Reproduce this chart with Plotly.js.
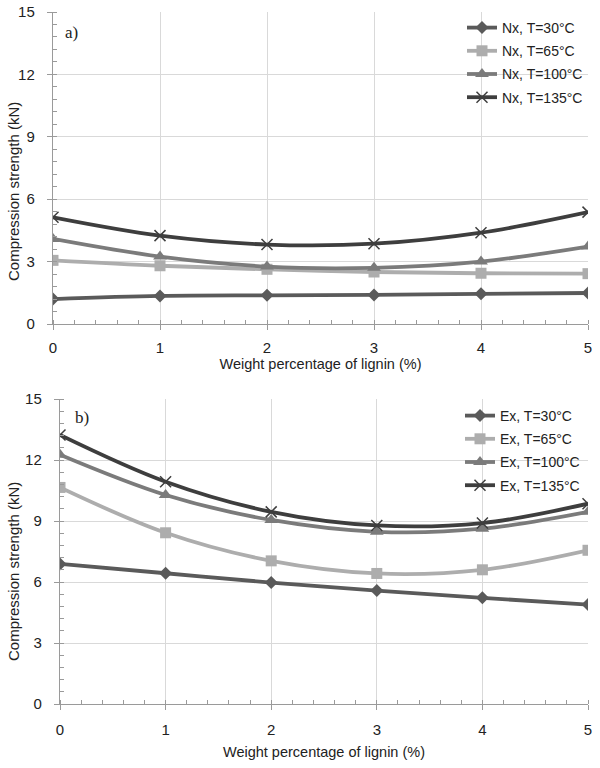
<!DOCTYPE html>
<html>
<head>
<meta charset="utf-8">
<script src="https://cdn.plot.ly/plotly-3.0.1.min.js"></script>
<style>
html,body{margin:0;padding:0;background:#fff;}
#chart{width:600px;height:768px;}
</style>
</head>
<body>
<div id="chart"></div>
<script>
// ---- data ----
const lignin = [0, 1, 2, 3, 4, 5];
const seriesNames = ["T=30°C", "T=65°C", "T=100°C", "T=135°C"];
const nx30  = [1.20, 1.35, 1.38, 1.40, 1.45, 1.49];
const nx65  = [3.06, 2.80, 2.63, 2.50, 2.44, 2.42];
const nx100 = [4.09, 3.24, 2.76, 2.70, 3.00, 3.72];
const nx135 = [5.13, 4.25, 3.82, 3.86, 4.39, 5.38];
const ex30  = [6.89, 6.43, 5.97, 5.58, 5.22, 4.89];
const ex65  = [10.65, 8.42, 7.04, 6.42, 6.60, 7.56];
const ex100 = [12.26, 10.28, 9.05, 8.47, 8.62, 9.45];
const ex135 = [13.23, 10.93, 9.45, 8.78, 8.90, 9.85];
const yTicks = [0, 3, 6, 9, 12, 15];
const xTitle = "Weight percentage of lignin (%)";
const yTitle = "Compression strength (kN)";

// ---- styles ----
const colors = ["#5a5a5a", "#adadad", "#7b7b7b", "#3e3e3e"];
const symbols = ["diamond", "square", "triangle-up", "x-thin-open"];
const sizes = [10, 11, 12, 11];

function mk(prefix, vals, i, xa, ya, leg) {
  return {
    x: lignin, y: vals, type: "scatter", mode: "lines+markers",
    name: prefix + ", " + seriesNames[i],
    xaxis: xa, yaxis: ya, legend: leg, legendgroup: leg + i,
    line: {color: colors[i], width: 3.8, shape: "spline", smoothing: 1},
    marker: {symbol: symbols[i], size: sizes[i], color: colors[i],
             line: {color: colors[i], width: i === 3 ? 1.5 : 0}}
  };
}

const data = [
  mk("Nx", nx30, 0, "x", "y", "legend"),
  mk("Nx", nx65, 1, "x", "y", "legend"),
  mk("Nx", nx100, 2, "x", "y", "legend"),
  mk("Nx", nx135, 3, "x", "y", "legend"),
  mk("Ex", ex30, 0, "x2", "y2", "legend2"),
  mk("Ex", ex65, 1, "x2", "y2", "legend2"),
  mk("Ex", ex100, 2, "x2", "y2", "legend2"),
  mk("Ex", ex135, 3, "x2", "y2", "legend2")
];

const fam = "Liberation Sans, Arial, sans-serif";
const font = {family: fam, size: 14, color: "#222"};
const axisGray = "#9a9a9a";

// page geometry (px) -> paper coords
const M = {l: 53, r: 12, t: 12, b: 64};
const PW = 600 - M.l - M.r, PH = 768 - M.t - M.b;
const px = v => (v - M.l) / PW;
const py = v => 1 - (v - M.t) / PH;

function xaxisDef(domain, anchor, lblOff, titleOff) {
  return {
    domain: domain, anchor: anchor, range: [0, 5], tickvals: lignin,
    showgrid: true, gridcolor: "#d9d9d9", gridwidth: 1,
    showline: true, linecolor: axisGray, linewidth: 1.2,
    ticks: "outside", ticklen: 5, tickcolor: axisGray, ticklabelstandoff: lblOff,
    minor: {dtick: 0.2, ticks: "inside", ticklen: 4, tickcolor: axisGray, showgrid: false},
    zeroline: false, fixedrange: true,
    tickfont: {family: fam, size: 15, color: "#222"},
    title: {text: xTitle, font: {family: fam, size: 14.5, color: "#222"}, standoff: titleOff}
  };
}
function yaxisDef(domain, anchor) {
  return {
    domain: domain, anchor: anchor, range: [0, 15], tickvals: yTicks,
    showgrid: true, gridcolor: "#d9d9d9", gridwidth: 1,
    showline: true, linecolor: axisGray, linewidth: 1.2,
    ticks: "outside", ticklen: 5, tickcolor: axisGray, ticklabelstandoff: 9,
    minor: {dtick: 0.6, ticks: "inside", ticklen: 4, tickcolor: axisGray, showgrid: false},
    zeroline: false, fixedrange: true,
    tickfont: {family: fam, size: 15, color: "#222"}
  };
}

const legendBase = {
  xanchor: "left", yanchor: "top", bgcolor: "rgba(0,0,0,0)", borderwidth: 0,
  font: {family: fam, size: 14, color: "#222"},
  traceorder: "grouped", tracegroupgap: 2, itemwidth: 30
};

const yTitleFont = {family: fam, size: 15, color: "#222"};

const layout = {
  width: 600, height: 768,
  margin: {l: M.l, r: M.r, t: M.t, b: M.b, pad: 0},
  paper_bgcolor: "#fff", plot_bgcolor: "#fff",
  font: font,
  showlegend: true,
  xaxis: xaxisDef([px(53), px(588)], "y", 5, 3),
  yaxis: yaxisDef([py(324), py(12)], "x"),
  xaxis2: xaxisDef([px(60), px(588)], "y2", 7, 9),
  yaxis2: yaxisDef([py(704), py(399)], "x2"),
  legend: Object.assign({x: px(462), y: py(12)}, legendBase),
  legend2: Object.assign({x: px(460), y: py(400)}, legendBase),
  annotations: [
    {text: yTitle, xref: "paper", yref: "paper", x: px(14), y: py(192), textangle: -90,
     xanchor: "center", yanchor: "middle", showarrow: false, font: yTitleFont},
    {text: yTitle, xref: "paper", yref: "paper", x: px(13), y: py(572), textangle: -90,
     xanchor: "center", yanchor: "middle", showarrow: false, font: yTitleFont},
    {text: "a)", xref: "paper", yref: "paper", x: px(63), y: py(32), xanchor: "left", yanchor: "middle",
     showarrow: false, font: {family: "Liberation Serif, Times New Roman, serif", size: 17, color: "#222"}},
    {text: "b)", xref: "paper", yref: "paper", x: px(73), y: py(417), xanchor: "left", yanchor: "middle",
     showarrow: false, font: {family: "Liberation Serif, Times New Roman, serif", size: 17, color: "#222"}}
  ]
};

Plotly.newPlot("chart", data, layout, {displayModeBar: false, staticPlot: true});
</script>
</body>
</html>
